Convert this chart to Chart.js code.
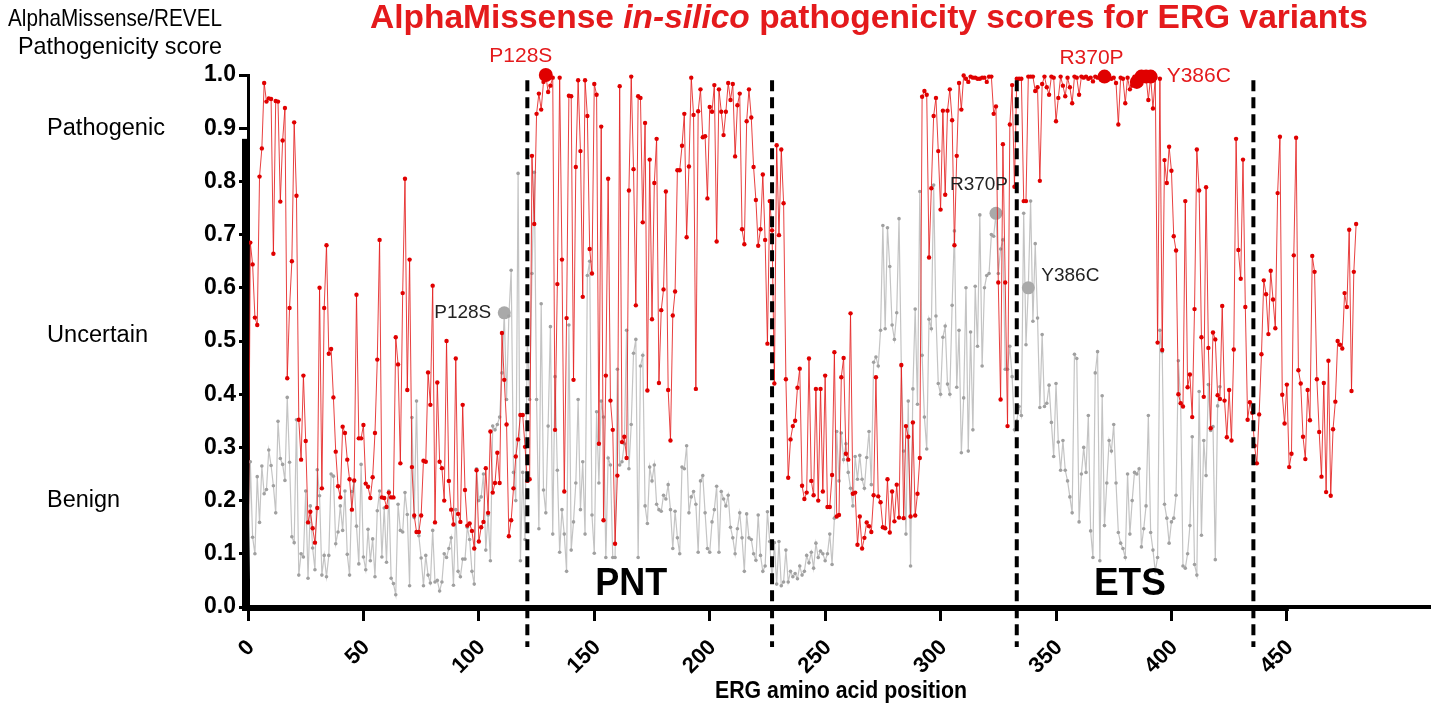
<!DOCTYPE html>
<html>
<head>
<meta charset="utf-8">
<script src="https://cdn.jsdelivr.net/npm/chart.js@4.4.1/dist/chart.umd.min.js"></script>
<style>
  html, body { margin: 0; padding: 0; background: #fff; }
  #wrap { width: 1439px; height: 712px; }
</style>
</head>
<body>
<div id="wrap"><canvas id="chart" width="1439" height="712"></canvas></div>
<script>
// AlphaMissense score per ERG position (0 .. 480)
const alphaMissense = [
  0.00, 0.685, 0.644, 0.544, 0.530, 0.809, 0.862, 0.985, 0.950, 0.956, 0.955, 0.664, 0.951, 0.950, 0.762, 0.877, 0.938, 0.430, 0.562, 0.650,
  0.911, 0.773, 0.352, 0.277, 0.435, 0.312, 0.159, 0.179, 0.148, 0.121, 0.186, 0.600, 0.223, 0.562, 0.680, 0.476, 0.485, 0.394, 0.292, 0.227,
  0.206, 0.339, 0.327, 0.277, 0.240, 0.183, 0.238, 0.587, 0.317, 0.317, 0.342, 0.232, 0.226, 0.205, 0.244, 0.327, 0.465, 0.690, 0.206, 0.205,
  0.188, 0.215, 0.206, 0.206, 0.507, 0.456, 0.270, 0.590, 0.805, 0.408, 0.653, 0.263, 0.172, 0.141, 0.141, 0.172, 0.275, 0.273, 0.441, 0.380,
  0.604, 0.159, 0.422, 0.273,
  0.261, 0.20, 0.50, 0.237, 0.183, 0.155, 0.467, 0.175, 0.16, 0.38, 0.22, 0.153, 0.157, 0.143, 0.11, 0.257, 0.123, 0.15, 0.16, 0.261,
  0.177, 0.33, 0.215, 0.233, 0.29, 0.233, 0.515, 0.427, 0.343, 0.133, 0.163, 0.223, 0.283, 0.315, 0.361, 0.361, 0.301, 0.237, 0.24, 0.848,
  0.72, 0.927, 0.965, 0.935, 0.987, 1.0, 0.968, 0.98, 0.995, 0.333, 0.607, 0.995, 0.653, 0.217, 0.543, 0.961, 0.96, 0.427, 0.827, 0.99,
  0.857, 0.583, 0.99, 0.923, 0.673, 0.627, 0.983, 0.963, 0.307, 0.903, 0.163, 0.435, 0.805, 0.388, 0.333, 0.119, 0.247, 0.979, 0.31, 0.32,
  0.28, 0.783,
  0.997, 0.823, 0.567, 0.96, 0.957, 0.723, 0.91, 0.407, 0.841, 0.541, 0.797, 0.88, 0.421, 0.558, 0.597, 0.781, 0.408, 0.313, 0.548, 0.593,
  0.821, 0.821, 0.867, 0.927, 0.695, 0.828, 0.995, 0.925, 0.41, 0.932, 0.973, 0.883, 0.885, 0.768, 0.94, 0.931, 0.981, 0.687, 0.973, 0.931,
  0.887, 0.931, 0.985, 0.953, 0.983, 0.847, 0.943, 0.965, 0.71, 0.682, 0.913, 0.973, 0.92, 0.827, 0.765, 0.679, 0.71, 0.813, 0.69, 0.495,
  0.763, 0.708, 0.42, 0.868, 0.699, 0.86, 0.759, 0.428, 0.243, 0.315, 0.34, 0.35, 0.412, 0.448, 0.228, 0.203, 0.215, 0.467, 0.237, 0.21,
  0.41,
  0.20, 0.41, 0.217, 0.435, 0.188, 0.188, 0.248, 0.479, 0.17, 0.173, 0.432, 0.468, 0.288, 0.277, 0.552, 0.213, 0.215, 0.117, 0.17, 0.11,
  0.13, 0.159, 0.152, 0.141, 0.21, 0.432, 0.208, 0.197, 0.15, 0.148, 0.24, 0.14, 0.217, 0.161, 0.23, 0.168, 0.455, 0.167, 0.34, 0.32,
  0.17, 0.347, 0.172, 0.213, 0.28, 0.959, 0.97, 0.963, 0.657, 0.787, 0.923, 0.957, 0.857, 0.747, 0.933, 0.775, 0.933, 0.973, 0.915, 0.68,
  0.848, 0.985, 0.935, 0.999, 0.993, 0.987, 0.997, 0.995, 0.995, 0.993, 0.993, 0.995, 0.995, 0.987, 0.997, 0.997, 0.927, 0.941, 0.61, 0.39,
  0.87, 0.61, 0.34,
  0.907, 0.981, 0.79, 0.993, 0.993, 0.993, 0.763, 0.763, 0.997, 0.997, 0.997, 0.97, 0.977, 0.801, 0.983, 0.997, 0.977, 0.963, 0.997, 0.995,
  0.913, 0.957, 0.997, 0.98, 0.96, 0.995, 0.977, 0.947, 0.997, 0.995, 0.963, 0.997, 0.995, 0.997, 0.993, 0.995, 0.988, 0.997, 0.995, 0.997,
  0.997, 0.997, 0.997, 0.995, 0.993, 0.995, 0.985, 0.907, 0.995, 0.993, 0.947, 0.995, 0.973, 0.98, 0.997, 0.987, 0.99, 0.997, 0.995, 0.997,
  0.953, 0.997, 0.937, 0.995, 0.497, 0.993, 0.483, 0.84, 0.797, 0.865, 0.82, 0.697, 0.67, 0.4, 0.383, 0.377, 0.763, 0.413, 0.437, 0.357,
  0.56, 0.86,
  0.783, 0.507, 0.395, 0.789, 0.487, 0.336, 0.516, 0.503, 0.398, 0.391, 0.566, 0.388, 0.319, 0.408, 0.313, 0.484, 0.88, 0.671, 0.617, 0.841,
  0.564, 0.352, 0.385, 0.365, 0.303, 0.27, 0.362, 0.475, 0.614, 0.588, 0.513, 0.632, 0.578, 0.524, 0.778, 0.884, 0.399, 0.345, 0.418, 0.263,
  0.288, 0.661, 0.882, 0.445, 0.42, 0.32, 0.278, 0.408, 0.351, 0.66, 0.63, 0.428, 0.329, 0.245, 0.421, 0.216, 0.463, 0.209, 0.334, 0.386,
  0.5, 0.493, 0.486, 0.59, 0.564, 0.709, 0.406, 0.63, 0.72
];

// REVEL score per variant, plotted on the same pitch (0 .. 421)
const revel = [
  0, 0.273, 0.131, 0.10, 0.245, 0.159, 0.265, 0.213, 0.221, 0.295, 0.266, 0.228, 0.177, 0.349, 0.279, 0.268, 0.238, 0.394, 0.272, 0.132,
  0.121, 0.352, 0.06, 0.10, 0.094, 0.218, 0.054, 0.19, 0.111, 0.07, 0.258, 0.209, 0.06, 0.097, 0.057, 0.097, 0.25, 0.246, 0.119, 0.141,
  0.19, 0.144, 0.218, 0.099, 0.06, 0.217, 0.236, 0.152, 0.081, 0.268, 0.094, 0.07, 0.146, 0.087, 0.128, 0.057, 0.181, 0.218, 0.094, 0.186,
  0.084, 0.218, 0.054, 0.044, 0.023, 0.193, 0.144, 0.141, 0.215, 0.174, 0.04, 0.356, 0.168, 0.387, 0.134, 0.092, 0.04, 0.097, 0.06, 0.045,
  0.144, 0.047, 0.05,
  0.03, 0.047, 0.10, 0.093, 0.11, 0.13, 0.041, 0.183, 0.067, 0.057, 0.09, 0.09, 0.15, 0.127, 0.067, 0.043, 0.26, 0.20, 0.207, 0.25,
  0.107, 0.173, 0.087, 0.34, 0.333, 0.343, 0.357, 0.44, 0.553, 0.39, 0.547, 0.633, 0.253, 0.2, 0.815, 0.087, 0.253, 0.127, 0.507, 0.39,
  0.627, 0.817, 0.39, 0.147, 0.57, 0.22, 0.177, 0.34, 0.527, 0.137, 0.433, 0.257, 0.103, 0.183, 0.137, 0.067, 0.53, 0.107, 0.16, 0.233,
  0.39, 0.183, 0.273, 0.137, 0.623, 0.65, 0.173, 0.101, 0.367, 0.233, 0.387, 0.357, 0.093, 0.28, 0.267, 0.093, 0.093, 0.447, 0.267, 0.273,
  0.307, 0.52, 0.26,
  0.343, 0.477, 0.503, 0.093, 0.453, 0.473, 0.19, 0.157, 0.263, 0.237, 0.267, 0.193, 0.183, 0.18, 0.21, 0.203, 0.23, 0.183, 0.11, 0.18,
  0.13, 0.10, 0.263, 0.26, 0.303, 0.177, 0.207, 0.217, 0.193, 0.103, 0.237, 0.247, 0.177, 0.11, 0.103, 0.16, 0.183, 0.227, 0.103, 0.217,
  0.203, 0.19, 0.21, 0.15, 0.13, 0.10, 0.147, 0.177, 0.13, 0.067, 0.175, 0.13, 0.127, 0.10, 0.088, 0.173, 0.097, 0.067, 0.077, 0.179,
  0.123, 0.05, 0.121, 0.043, 0.123, 0.04, 0.047, 0.107, 0.047, 0.067, 0.057, 0.063, 0.053, 0.077, 0.06, 0.067, 0.097, 0.083, 0.103, 0.073,
  0.12, 0.093,
  0.105, 0.10, 0.087, 0.10, 0.137, 0.08, 0.167, 0.33, 0.237, 0.327, 0.277, 0.307, 0.253, 0.223, 0.19, 0.283, 0.24, 0.285, 0.24, 0.223,
  0.281, 0.33, 0.23, 0.46, 0.47, 0.453, 0.52, 0.717, 0.523, 0.713, 0.64, 0.53, 0.503, 0.553, 0.73, 0.453, 0.293, 0.137, 0.387, 0.077,
  0.41, 0.56, 0.381, 0.781, 0.473, 0.357, 0.297, 0.541, 0.523, 0.793, 0.547, 0.42, 0.40, 0.507, 0.528, 0.419, 0.40, 0.567, 0.707, 0.413,
  0.52, 0.29, 0.393, 0.60, 0.293, 0.517, 0.333, 0.603, 0.49, 0.737, 0.453, 0.60, 0.623, 0.627, 0.70, 0.697, 0.74, 0.627, 0.673, 0.69,
  0.447, 0.447,
  0.49, 0.433, 0.333, 0.35, 0.377, 0.36, 0.74, 0.493, 0.60,
  0.763, 0.537, 0.683, 0.543, 0.375, 0.512, 0.377, 0.383, 0.417, 0.347, 0.283, 0.42, 0.31, 0.257, 0.313, 0.257, 0.237, 0.207, 0.177, 0.475,
  0.467, 0.16, 0.25, 0.30, 0.253, 0.36, 0.143, 0.093, 0.44, 0.48, 0.087, 0.397, 0.153, 0.233, 0.313, 0.293, 0.343, 0.233, 0.14, 0.12,
  0.11, 0.093, 0.25, 0.137, 0.20, 0.253, 0.25, 0.26, 0.113, 0.147, 0.19, 0.36, 0.14, 0.107, 0.067, 0.093, 0.52, 0.48, 0.193, 0.167,
  0.12, 0.16, 0.167, 0.21, 0.463, 0.383, 0.077, 0.073, 0.10, 0.153, 0.32, 0.08,
  0.06, 0.405, 0.135, 0.313, 0.247, 0.418, 0.332, 0.339, 0.089, 0.378, 0.414
];

const xTickValues = [0, 50, 100, 150, 200, 250, 300, 350, 400, 450];
const domainBounds = [121, 227, 333, 435.5];
const domainNames = ['PNT', 'ETS'];
const categoryNames = ['Pathogenic', 'Uncertain', 'Benign'];
const categoryAt = [0.9, 0.51, 0.2];

// highlighted variants: index into the series and its label
const redHighlightIdx = [129, 371, 385, 387, 389, 391];
const grayHighlightIdx = [111, 324, 338];
const variantNames = ['P128S', 'R370P', 'Y386C'];

const RED = '#e41a1c';
const FONT = '"Liberation Sans", Arial, sans-serif';

function drawText(ctx, str, x, y, font, color, align, width) {
  ctx.save();
  ctx.font = font;
  ctx.fillStyle = color;
  ctx.textBaseline = 'middle';
  ctx.textAlign = align || 'left';
  const w = ctx.measureText(str).width;
  ctx.translate(x, y);
  if (width) ctx.scale(width / w, 1);
  ctx.fillText(str, 0, 0);
  ctx.restore();
}

const annotations = {
  id: 'annotations',
  afterDatasetsDraw(chart) {
    const { ctx, scales: { x, y }, chartArea } = chart;

    // domain boundaries
    ctx.save();
    ctx.strokeStyle = '#000';
    ctx.lineWidth = 4;
    ctx.setLineDash([11, 6]);
    domainBounds.forEach(b => {
      const px = x.getPixelForValue(b);
      ctx.beginPath();
      ctx.moveTo(px, y.getPixelForValue(0.99));
      ctx.lineTo(px, chartArea.bottom + 40);
      ctx.stroke();
    });
    ctx.restore();

    // second, heavier axis bars as in the original
    ctx.save();
    ctx.fillStyle = '#000';
    ctx.fillRect(chartArea.left - 6, y.getPixelForValue(0.88), 7, y.getPixelForValue(0) - y.getPixelForValue(0.88));
    ctx.fillRect(chartArea.left - 6, chartArea.bottom - 2, x.getPixelForValue(450) - chartArea.left + 8, 6);
    ctx.restore();

    // variant labels
    const red = chart.getDatasetMeta(0).data;
    const gray = chart.getDatasetMeta(1).data;
    const redLab = `21px ${FONT}`;
    const grayLab = `19px ${FONT}`;
    let p = red[redHighlightIdx[0]];
    drawText(ctx, variantNames[0], p.x - 25, p.y - 19, redLab, RED, 'center');
    p = red[redHighlightIdx[1]];
    drawText(ctx, variantNames[1], p.x - 13, p.y - 18, redLab, RED, 'center');
    p = red[redHighlightIdx[5]];
    drawText(ctx, variantNames[2], p.x + 16, p.y, redLab, RED, 'left');
    p = gray[grayHighlightIdx[0]];
    drawText(ctx, variantNames[0], p.x - 13, p.y, grayLab, '#222', 'right');
    p = gray[grayHighlightIdx[1]];
    drawText(ctx, variantNames[1], p.x - 17, p.y - 29, grayLab, '#222', 'center');
    p = gray[grayHighlightIdx[2]];
    drawText(ctx, variantNames[2], p.x + 13, p.y - 12, grayLab, '#222', 'left');

    // domain names
    drawText(ctx, domainNames[0], x.getPixelForValue(166), chartArea.bottom - 22, `bold 38px ${FONT}`, '#000', 'center', 72);
    drawText(ctx, domainNames[1], x.getPixelForValue(382), chartArea.bottom - 22, `bold 38px ${FONT}`, '#000', 'center', 72);

    // x tick labels, rotated, text end at the tick
    xTickValues.forEach(v => {
      ctx.save();
      ctx.translate(x.getPixelForValue(v) + 3, chartArea.bottom + 37);
      ctx.rotate(-Math.PI / 4);
      ctx.font = `bold 22px ${FONT}`;
      ctx.fillStyle = '#000';
      ctx.textAlign = 'right';
      ctx.textBaseline = 'middle';
      ctx.fillText(String(v), 0, 0);
      ctx.restore();
    });

    // category names
    categoryNames.forEach((c, i) => {
      drawText(ctx, c, 47, y.getPixelForValue(categoryAt[i]), `23px ${FONT}`, '#000', 'left', [118, 101, 73][i]);
    });

    // titles
    drawText(ctx, 'AlphaMissense/REVEL', 115, 19, `24px ${FONT}`, '#000', 'center', 214);
    drawText(ctx, 'Pathogenicity score', 120, 47, `24px ${FONT}`, '#000', 'center', 204);
    drawText(ctx, 'ERG amino acid position', 841, 692, `bold 23px ${FONT}`, '#000', 'center', 252);

    const parts = [
      ['AlphaMissense ', `bold 33px ${FONT}`],
      ['in-silico', `italic bold 33px ${FONT}`],
      [' pathogenicity scores for ERG variants', `bold 33px ${FONT}`]
    ];
    ctx.save();
    ctx.textBaseline = 'middle';
    ctx.fillStyle = RED;
    let total = 0;
    parts.forEach(pt => { ctx.font = pt[1]; total += ctx.measureText(pt[0]).width; });
    ctx.translate(370, 19);
    ctx.scale(998 / total, 1);
    let cx = 0;
    parts.forEach(pt => { ctx.font = pt[1]; ctx.fillText(pt[0], cx, 0); cx += ctx.measureText(pt[0]).width; });
    ctx.restore();
  }
};

const ctx = document.getElementById('chart').getContext('2d');
new Chart(ctx, {
  type: 'line',
  data: {
    datasets: [
      {
        label: 'AlphaMissense',
        data: alphaMissense.map((v, i) => ({ x: i, y: v })),
        borderColor: 'rgba(228, 30, 30, 0.85)',
        borderWidth: 1,
        pointBackgroundColor: '#e00000',
        pointBorderWidth: 0,
        pointRadius: c => redHighlightIdx.includes(c.dataIndex) ? 7 : 2.2,
        tension: 0,
        clip: false
      },
      {
        label: 'REVEL',
        data: revel.map((v, i) => ({ x: i, y: v })),
        borderColor: '#c4c4c4',
        borderWidth: 1.2,
        pointBackgroundColor: c => grayHighlightIdx.includes(c.dataIndex) ? '#a9a9a9' : '#a0a0a0',
        pointBorderWidth: 0,
        pointRadius: c => grayHighlightIdx.includes(c.dataIndex) ? 6.5 : 1.8,
        tension: 0,
        clip: false
      }
    ]
  },
  options: {
    responsive: false,
    animation: false,
    layout: { padding: { left: 0, right: 9, top: 75, bottom: 0 } },
    plugins: { legend: { display: false }, tooltip: { enabled: false } },
    scales: {
      x: {
        type: 'linear',
        min: 0,
        max: 512,
        afterBuildTicks: s => { s.ticks = xTickValues.map(v => ({ value: v })); },
        afterFit: s => { s.height = 105; },
        ticks: { display: false },
        grid: { drawOnChartArea: false, drawTicks: true, tickLength: 14, tickWidth: 3, tickColor: '#000' },
        border: { display: true, color: '#000', width: 4 }
      },
      y: {
        min: 0,
        max: 1,
        afterFit: s => { s.width = 248; },
        ticks: {
          stepSize: 0.1,
          padding: 3,
          color: '#000',
          font: { family: FONT, size: 23, weight: 'bold' },
          callback: v => v.toFixed(1)
        },
        grid: { drawOnChartArea: false, drawTicks: true, tickLength: 9, tickWidth: 3, tickColor: '#000' },
        border: { display: true, color: '#000', width: 3 }
      }
    }
  },
  plugins: [annotations]
});
</script>
</body>
</html>
